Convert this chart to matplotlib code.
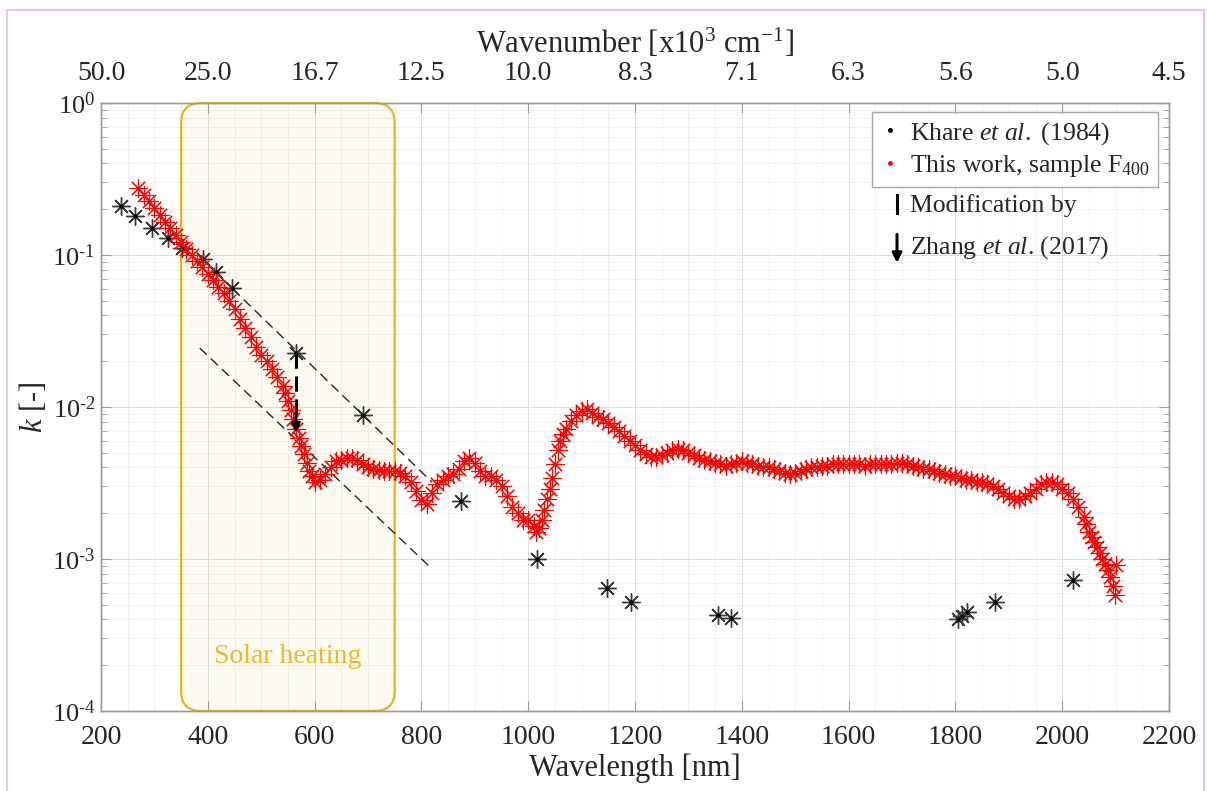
import matplotlib
matplotlib.use("Agg")
import matplotlib.pyplot as plt
from matplotlib.patches import FancyBboxPatch, Rectangle
from matplotlib.transforms import IdentityTransform, blended_transform_factory
from matplotlib.lines import Line2D
from matplotlib.ticker import FixedLocator, MultipleLocator, LogLocator, NullFormatter

plt.rcParams['font.family'] = ['Liberation Serif', 'DejaVu Serif']
plt.rcParams['mathtext.fontset'] = 'custom'
plt.rcParams['mathtext.rm'] = 'Liberation Serif'
plt.rcParams['mathtext.it'] = 'Liberation Serif:italic'
plt.rcParams['mathtext.bf'] = 'Liberation Serif:bold'

# ---------------- data ----------------
# Khare et al. (1984) imaginary refractive index
khare_wl = [237, 264, 295, 325, 352, 391, 415, 445, 565, 690, 874, 1016,
            1148, 1192, 1355, 1380, 1805, 1813, 1822, 1874, 2020]
khare_k = [0.21, 0.18, 0.15, 0.13, 0.111, 0.094, 0.077, 0.061, 0.0227, 0.0089,
           0.0024, 0.0010, 0.00064, 0.00052, 0.00043, 0.00041, 0.00040,
           0.00042, 0.00045, 0.00052, 0.00073]

# This work, sample F400
red_wl = [270, 280, 290, 300, 310, 320, 330, 340, 350, 360, 370, 380, 390, 400,
          410, 420, 430, 440, 450, 460, 470, 480, 490, 500, 510, 520, 530, 540,
          545, 550, 555, 560, 565, 570, 575, 580, 585, 590, 595, 600, 610, 620,
          630, 640, 650, 660, 670, 680, 690, 700, 710, 720, 730, 740, 750, 760,
          770, 780, 790, 800, 810, 820, 830, 840, 850, 860, 870, 880, 890, 900,
          910, 920, 930, 940, 950, 960, 970, 980, 990, 1000, 1010, 1015, 1020,
          1025, 1030, 1035, 1040, 1045, 1050, 1055, 1060, 1065, 1070, 1080, 1090,
          1100, 1110, 1120, 1130, 1140, 1150, 1160, 1170, 1180, 1190, 1200, 1210,
          1220, 1230, 1240, 1250, 1260, 1270, 1280, 1290, 1300, 1310, 1320, 1330,
          1340, 1350, 1360, 1370, 1380, 1390, 1400, 1410, 1420, 1430, 1440, 1450,
          1460, 1470, 1480, 1490, 1500, 1510, 1520, 1530, 1540, 1550, 1560, 1570,
          1580, 1590, 1600, 1610, 1620, 1630, 1640, 1650, 1660, 1670, 1680, 1690,
          1700, 1710, 1720, 1730, 1740, 1750, 1760, 1770, 1780, 1790, 1800, 1810,
          1820, 1830, 1840, 1850, 1860, 1870, 1880, 1890, 1900, 1910, 1920, 1930,
          1940, 1950, 1960, 1970, 1980, 1990, 2000, 2010, 2020, 2030, 2040, 2045,
          2050, 2055, 2060, 2065, 2070, 2075, 2080, 2085, 2090, 2095, 2098, 2101]
red_k = [0.275, 0.25, 0.226, 0.204, 0.184, 0.166, 0.150, 0.135, 0.122, 0.110,
         0.100, 0.091, 0.083, 0.075, 0.068, 0.062, 0.056, 0.050, 0.044, 0.038,
         0.033, 0.029, 0.025, 0.022, 0.020, 0.0178, 0.0158, 0.0138, 0.0124,
         0.0110, 0.0096, 0.0083, 0.0072, 0.0063, 0.0055, 0.0049, 0.0043, 0.0038,
         0.0035, 0.0032, 0.0033, 0.0036, 0.0040, 0.0044, 0.0045, 0.0046, 0.0046,
         0.0045, 0.0042, 0.0040, 0.0039, 0.00385, 0.0038, 0.0038, 0.0038, 0.0037,
         0.0035, 0.0032, 0.0028, 0.00245, 0.0023, 0.0027, 0.0031, 0.0033, 0.0035,
         0.0036, 0.0039, 0.0044, 0.0046, 0.0043, 0.0038, 0.0035, 0.0035, 0.0033,
         0.0030, 0.0026, 0.0022, 0.0020, 0.0018, 0.0018, 0.00165, 0.0015, 0.0016,
         0.0018, 0.0021, 0.0025, 0.0029, 0.0034, 0.0042, 0.0052, 0.0060, 0.0066,
         0.0072, 0.0081, 0.0088, 0.0094, 0.0097, 0.0092, 0.0086, 0.0083, 0.0079,
         0.0074, 0.0069, 0.0064, 0.0060, 0.0056, 0.0052, 0.0049, 0.0047, 0.0047,
         0.0048, 0.0050, 0.0052, 0.0053, 0.0052, 0.0050, 0.0048, 0.0046, 0.0045,
         0.0044, 0.0043, 0.0042, 0.0041, 0.0042, 0.0043, 0.0044, 0.0043, 0.0042,
         0.0041, 0.0040, 0.0040, 0.0039, 0.0038, 0.0037, 0.0036, 0.0037, 0.0038,
         0.0039, 0.0040, 0.0040, 0.0041, 0.0041, 0.0042, 0.0042, 0.0042, 0.0042,
         0.0042, 0.0042, 0.0041, 0.0042, 0.0042, 0.0042, 0.0042, 0.0042, 0.0043,
         0.0043, 0.0042, 0.0041, 0.0040, 0.0039, 0.0039, 0.0038, 0.0037, 0.0036,
         0.0035, 0.0035, 0.0034, 0.0033, 0.0033, 0.0032, 0.0032, 0.0031, 0.0030,
         0.0029, 0.0027, 0.0026, 0.0025, 0.0025, 0.0026, 0.0027, 0.0029, 0.0031,
         0.0032, 0.0032, 0.0031, 0.0029, 0.0027, 0.0025, 0.0022, 0.0019, 0.0017,
         0.0015, 0.0014, 0.0013, 0.0012, 0.0011, 0.0010, 0.00093, 0.00085,
         0.00076, 0.00066, 0.00058, 0.00091]

# parallel guide lines (Zhang et al. 2017 modification)
upper_guide_wl = [385, 820]
upper_guide_k = [0.097, 0.0032]
lower_guide_wl = [385, 820]
lower_guide_k = [0.0244, 0.00086]
mod_wl = 565
mod_k_from = 0.0227
mod_k_to = 0.0068

# solar heating band [nm]
solar_band = (350, 750)

# axis ticks
wl_ticks = [200, 400, 600, 800, 1000, 1200, 1400, 1600, 1800, 2000, 2200]
wavenumber_labels = ['50.0', '25.0', '16.7', '12.5', '10.0', '8.3', '7.1',
                     '6.3', '5.6', '5.0', '4.5']
k_ticks = [1e-4, 1e-3, 1e-2, 1e-1, 1e0]
k_tick_labels = ['$\\mathregular{10^{\u2010' + '4}}$',
                 '$\\mathregular{10^{\u2010' + '3}}$',
                 '$\\mathregular{10^{\u2010' + '2}}$',
                 '$\\mathregular{10^{\u2010' + '1}}$',
                 '$\\mathregular{10^{0}}$']

# ---------------- figure ----------------
W, H, DPI = 1207, 791, 100
fig = plt.figure(figsize=(W / DPI, H / DPI), dpi=DPI)
ax = fig.add_axes([101 / W, 1 - 711 / H, 1068 / W, 608 / H])
ax.set_yscale('log')
ax.set_xlim(200, 2200)
ax.set_ylim(1e-4, 1)

spine_col = '#9a9a9a'
label_col = '#262626'
for s in ax.spines.values():
    s.set_color(spine_col)
    s.set_linewidth(1.0)

ax.xaxis.set_major_locator(FixedLocator(wl_ticks))
ax.xaxis.set_minor_locator(MultipleLocator(50))
ax.set_yticks(k_ticks)
ax.set_yticklabels(k_tick_labels)
ax.yaxis.set_minor_locator(LogLocator(base=10, subs=[2, 3, 4, 5, 6, 7, 8, 9]))
ax.yaxis.set_minor_formatter(NullFormatter())

ax.tick_params(axis='both', which='both', direction='in', color=spine_col,
               labelcolor=label_col, labelsize=20)
ax.tick_params(axis='x', which='major', length=7, pad=10, top=False)
ax.tick_params(axis='x', which='minor', length=0, top=False)
ax.tick_params(axis='y', which='major', length=7, pad=4, right=True,
               labelsize=19)
ax.tick_params(axis='y', which='minor', length=4, right=True)

ax.set_axisbelow(True)
ax.grid(True, which='major', color='#dcdcdc', lw=0.7)
ax.grid(True, which='minor', color='#eeeeee', lw=0.6)

# solar heating band as a rounded box spanning the full height
(x0, y0) = ax.transData.transform((solar_band[0], 1e-4))
(x1, y1) = ax.transData.transform((solar_band[1], 1e0))
solar = FancyBboxPatch((x0, y0), x1 - x0, y1 - y0,
                       boxstyle='round,pad=0,rounding_size=20',
                       transform=IdentityTransform(), facecolor='#EDB120',
                       alpha=0.06, edgecolor='none', zorder=1.5, clip_on=False)
ax.add_patch(solar)
solar_edge = FancyBboxPatch((x0, y0), x1 - x0, y1 - y0,
                            boxstyle='round,pad=0,rounding_size=20',
                            transform=IdentityTransform(), facecolor='none',
                            edgecolor='#EDB120', lw=1.6, zorder=1.6, clip_on=False)
ax.add_patch(solar_edge)
ax.text(sum(solar_band) / 2, 0.089, 'Solar heating', color='#F0B62C',
        fontsize=20, ha='center', va='center',
        transform=blended_transform_factory(ax.transData, ax.transAxes))

# guide lines
ax.plot(upper_guide_wl, upper_guide_k, color='#262626', lw=1.0,
        dashes=(7, 4), zorder=3)
ax.plot(lower_guide_wl, lower_guide_k, color='#262626', lw=1.0,
        dashes=(7, 4), zorder=3)

# Khare et al. (1984)
asterisk = (8, 2, 0)
ax.plot(khare_wl, khare_k, ls='none', marker=asterisk, ms=13, mew=1.0,
        color='#3a3a3a', zorder=4)
ax.plot(khare_wl, khare_k, ls='none', marker='.', ms=4, color='k', zorder=4)

# This work
ax.plot(red_wl, red_k, ls='none', marker=asterisk, ms=13.5, mew=0.8,
        color='red', zorder=5)
ax.plot(red_wl, red_k, ls='none', marker='.', ms=2.5, color='red', zorder=5)

# modification arrow
ax.plot([mod_wl, mod_wl], [mod_k_from, mod_k_to * 1.3], color='k', lw=2.2,
        dashes=(5, 2.5), zorder=6)
ax.annotate('', xy=(mod_wl, mod_k_to), xytext=(mod_wl, mod_k_to * 1.35),
            arrowprops=dict(arrowstyle='-|>', color='k', lw=2.0,
                            mutation_scale=13, shrinkA=0, shrinkB=0), zorder=6)

# legend
handles = [Line2D([], [], ls='none', marker='.', ms=5, color='k'),
           Line2D([], [], ls='none', marker='.', ms=5, color='red')]
labels = [r'Khare $\mathit{et\ al.}$ (1984)', r'This work, sample F$_{400}$']
leg = ax.legend(handles, labels, loc='upper right',
                bbox_to_anchor=(0.9897, 0.9852), borderaxespad=0,
                fontsize=18.5, frameon=True, fancybox=False, framealpha=1,
                edgecolor='#a6a6a6', handlelength=0.8, handletextpad=0.4,
                labelspacing=0.25, borderpad=0.3)
leg.get_frame().set_linewidth(1.0)
for t in leg.get_texts():
    t.set_color(label_col)

# modification key
key_x = (897 - 101) / 1068
ax.plot([key_x, key_x], [0.849, 0.819], transform=ax.transAxes, color='k',
        lw=2.2, clip_on=False, zorder=7)
ax.annotate('', xy=(key_x, 0.737), xytext=(key_x, 0.784),
            xycoords='axes fraction',
            arrowprops=dict(arrowstyle='-|>', color='k', lw=2.2,
                            mutation_scale=14, shrinkA=0, shrinkB=0))
ax.text(key_x + 0.012, 0.832, 'Modification by', transform=ax.transAxes,
        fontsize=18.5, va='center', ha='left', color=label_col)
ax.text(key_x + 0.012, 0.763, r'Zhang $\mathit{et\ al}$. (2017)',
        transform=ax.transAxes, fontsize=18.5, va='center', ha='left',
        color=label_col)

# labels
ax.set_xlabel('Wavelength [nm]', fontsize=22, color=label_col)
ax.xaxis.set_label_coords(0.5, -0.07)
ax.set_ylabel(r'$\mathit{k}$ [-]', fontsize=22, color=label_col)
ax.yaxis.set_label_coords(-0.049, 0.5)

# wavenumber axis on top
ax2 = ax.twiny()
ax2.set_xlim(ax.get_xlim())
ax2.xaxis.set_major_locator(FixedLocator(wl_ticks))
ax2.set_xticklabels(wavenumber_labels)
ax2.tick_params(axis='x', direction='in', length=7, pad=12, color=spine_col,
                labelcolor=label_col, labelsize=20)
for s in ax2.spines.values():
    s.set_color(spine_col)
    s.set_linewidth(1.0)
ax2.set_xlabel(r'Wavenumber [x10$^3$ cm$^{-1}$]', fontsize=22, color=label_col)
ax2.xaxis.set_label_coords(0.5, 1.082)

# page frame
fig.add_artist(Rectangle((7 / W, -0.01), (1204 - 7) / W, 1.01 - 10 / H,
                         transform=fig.transFigure, fill=False,
                         edgecolor='#f2bdf2', lw=1.5))

fig.savefig('out.png', dpi=DPI)
